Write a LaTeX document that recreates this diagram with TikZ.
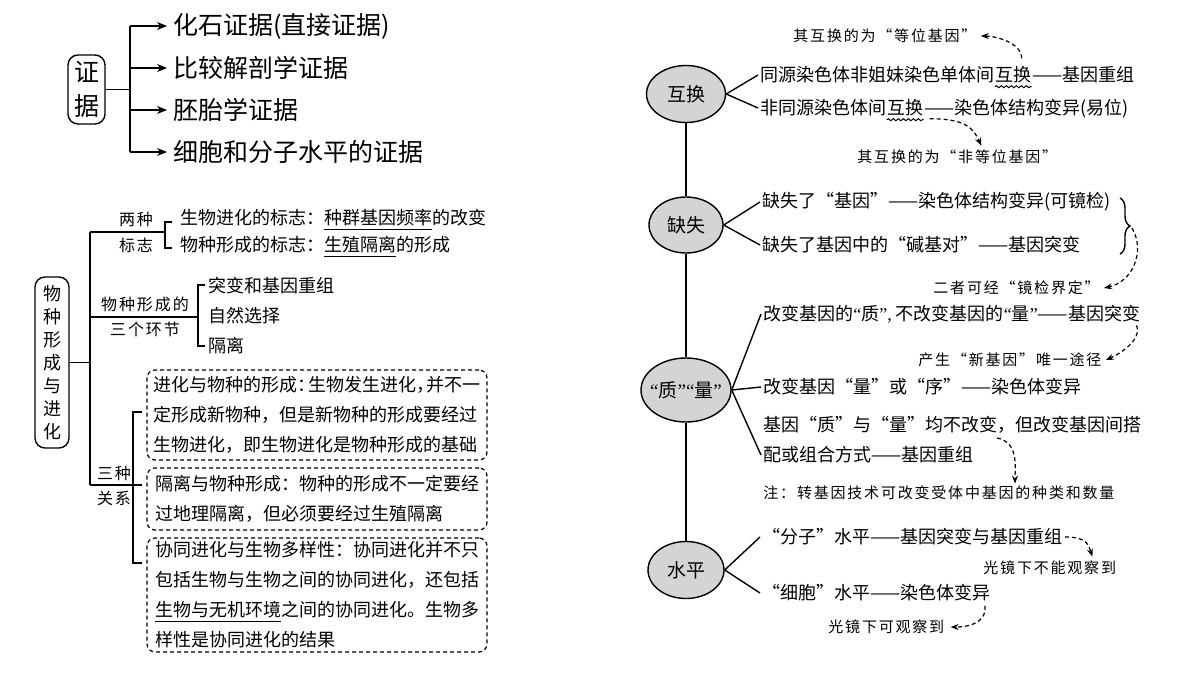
\documentclass[tikz,border=0pt]{standalone}
\usepackage{fontspec}
\setmainfont{Noto Sans CJK SC}
\newfontfamily\hand[LetterSpace=12]{Noto Sans CJK SC}
\newfontfamily\latq{Liberation Serif}
\usetikzlibrary{shapes.geometric,arrows.meta,decorations.pathreplacing,decorations.pathmorphing}
\newcommand\myq[1]{{\latq “}#1{\latq ”}}
\newcommand\ncolon{：\kern-0.4em}
\newcommand\ncomma{，\kern-0.45em}
\begin{document}
\begin{tikzpicture}[x=0.5pt,y=-0.5pt,
  txt/.style={anchor=west,inner sep=0pt,font=\fontsize{9}{11}\selectfont},
  bigt/.style={anchor=west,inner sep=0pt,font=\fontsize{12.5}{15}\selectfont},
  note/.style={anchor=west,inner sep=0pt,font=\hand\fontsize{7.5}{9}\selectfont},
  lbl/.style={inner sep=0pt,font=\hand\fontsize{8}{10}\selectfont},
  oval/.style={ellipse,draw,fill=black!17,line width=0.7pt,inner sep=0pt,font=\fontsize{9.5}{11}\selectfont},
  dbox/.style={draw,dash pattern=on 2pt off 1.5pt,rounded corners=4pt,line width=0.6pt,align=left,inner sep=0pt,font=\fontsize{9}{15}\selectfont},
  rbox/.style={draw,rounded corners=5pt,line width=0.7pt,inner sep=0pt,align=center},
  ln/.style={line width=0.7pt},
  arr/.style={line width=0.7pt,-{Stealth[length=5pt,width=4pt]}},
  darr/.style={line width=0.6pt,dash pattern=on 2pt off 1.5pt,-{Stealth[length=4pt,width=3pt]}},
  wavy/.style={decorate,decoration={snake,amplitude=0.5pt,segment length=2.5pt},line width=0.5pt}]
\useasboundingbox (0,0) rectangle (1200,675);
\fill[white] (0,0) rectangle (1200,675);

% ---------- top-left: 证据 ----------
\node[rbox,minimum width=18.5pt,minimum height=34.5pt,font=\fontsize{12.5}{17}\selectfont] (zj) at (86.5,89.5) {证\\据};
\coordinate (tm) at (130,89.5);
\coordinate (tk1) at (130,26);
\coordinate (tk2) at (130,68);
\coordinate (tk3) at (130,110);
\coordinate (tk4) at (130,152);
\node[bigt] (t1) at (173,26) {化石证据(直接证据)};
\node[bigt] (t2) at (173,68) {比较解剖学证据};
\node[bigt] (t3) at (173,110) {胚胎学证据};
\node[bigt] (t4) at (173,152) {细胞和分子水平的证据};
\draw[ln] (zj.east) -- (tm);
\draw[ln] (tk1) -- (tk4);
\draw[arr] (tk1) -- ([xshift=-3pt]t1.west);
\draw[arr] (tk2) -- ([xshift=-3pt]t2.west);
\draw[arr] (tk3) -- ([xshift=-3pt]t3.west);
\draw[arr] (tk4) -- ([xshift=-3pt]t4.west);

% ---------- lower-left: 物种形成与进化 ----------
\node[rbox,minimum width=17pt,minimum height=85.5pt,font=\fontsize{9}{11.5}\selectfont] (wz) at (52,362.5) {物\\种\\形\\成\\与\\进\\化};
\coordinate (Lm) at (90,362.5);
\coordinate (L1) at (90,232);
\coordinate (L2) at (90,317);
\coordinate (L3) at (90,485);
\draw[ln] (wz.east) -- (Lm);
\draw[ln] (L1) -- (L3);
% 两种标志
\draw[ln] (L1) -- (165,232);
\draw[ln] (172,222) -- (165,222) -- (165,248) -- (172,248);
\node[lbl] (lb1) at (136,219) {两种};
\node[lbl] (lb2) at (136,245) {标志};
\node[txt] (s1) at (180,220) {生物进化的标志：\underline{种群基因频率}的改变};
\node[txt] (s2) at (180,247) {物种形成的标志：\underline{生殖隔离}的形成};
% 三个环节
\draw[ln] (L2) -- (198,317);
\draw[ln] (205,285) -- (198,285) -- (198,346) -- (205,346);
\node[lbl] (lb3) at (145,304) {物种形成的};
\node[lbl] (lb4) at (145,329) {三个环节};
\node[txt] (h1) at (208,286) {突变和基因重组};
\node[txt] (h2) at (208,316) {自然选择};
\node[txt] (h3) at (208,346) {隔离};
% 三种关系
\draw[ln] (L3) -- (142,485);
\draw[ln] (142,412) -- (133,412) -- (133,563) -- (142,563);
\node[lbl] (lb5) at (114,473) {三种};
\node[lbl] (lb6) at (114,498) {关系};
\node[dbox,minimum width=170pt,minimum height=45pt] (b1) at (317,415)
  {进化与物种的形成\ncolon 生物发生进化\ncomma 并不一\\定形成新物种，但是新物种的形成要经过\\生物进化，即生物进化是物种形成的基础};
\node[dbox,minimum width=170pt,minimum height=31pt] (b2) at (317,499)
  {隔离与物种形成：物种的形成不一定要经\\过地理隔离，但必须要经过生殖隔离};
\node[dbox,minimum width=170pt,minimum height=57pt] (b3) at (317,595)
  {协同进化与生物多样性：协同进化并不只\\包括生物与生物之间的协同进化，还包括\\\underline{生物与无机环境}之间的协同进化。生物多\\样性是协同进化的结果};

% ---------- right side ----------
\node[oval,minimum width=39.5pt,minimum height=28.5pt] (e1) at (686,94) {互换};
\node[oval,minimum width=37pt,minimum height=28pt] (e2) at (686,225) {缺失};
\node[oval,minimum width=45pt,minimum height=32pt,inner xsep=-6pt] (e3) at (686,390) {\myq{质}\myq{量}};
\node[oval,minimum width=38pt,minimum height=28.5pt] (e4) at (686,570) {水平};
\draw[ln] (e1.south) -- (e2.north);
\draw[ln] (e2.south) -- (e3.north);
\draw[ln] (e3.south) -- (e4.north);

% 互换
\node[txt] (r1a) at (760,75) {同源染色体非姐妹染色单体间};
\node[txt,anchor=base west] (r1b) at (r1a.base east) {互换};
\node[txt,anchor=base west] (r1c) at (r1b.base east) {——基因重组};
\node[txt] (r2a) at (760,108) {非同源染色体间};
\node[txt,anchor=base west] (r2b) at (r2a.base east) {互换};
\node[txt,anchor=base west] (r2c) at (r2b.base east) {——染色体结构变异(易位)};
\draw[ln] (e1.east) -- ([xshift=-1pt]r1a.west);
\draw[ln] (e1.east) -- ([xshift=-1pt]r2a.west);
\draw[wavy] ([yshift=-1.5pt]r1b.south west) -- ([yshift=-1.5pt]r1b.south east);
\draw[wavy] ([yshift=-1.5pt]r2b.south west) -- ([yshift=-1.5pt]r2b.south east);
\node[note] (a1) at (793,36) {其互换的为“等位基因”};
\node[note] (a2) at (857,157) {其互换的为“非等位基因”};
\draw[darr] ([xshift=-5pt,yshift=4pt]r1b.north east) .. controls +(0,-16) and +(14,0) .. ([xshift=2pt]a1.east);
\draw[darr] ([xshift=3pt,yshift=-1pt]r2b.south east) .. controls +(35,0) and +(-8,-18) .. ([xshift=12pt,yshift=2pt]a2.north);

% 缺失
\node[txt] (r3) at (762,202) {缺失了“基因”——染色体结构变异(可镜检)};
\node[txt] (r4) at (762,245) {缺失了基因中的“碱基对”——基因突变};
\draw[ln] (e2.east) -- ([xshift=-1pt]r3.west);
\draw[ln] (e2.east) -- ([xshift=-1pt]r4.west);
\draw[ln,decorate,decoration={brace,amplitude=5pt}] (1120,198) -- (1120,254);
\coordinate (bt) at (1132,228);
\node[note] (a3) at (933,288) {二者可经“镜检界定”};
\draw[darr] (bt) .. controls (1146,252) and (1132,282) .. ([xshift=2pt]a3.east);

% 质量
\node[txt] (r5) at (763,314) {改变基因的\myq{质}{\latq ,} 不改变基因的\myq{量}——基因突变};
\node[txt] (r6) at (763,387) {改变基因“量”或“序”——染色体变异};
\node[txt] (r7) at (763,425) {基因“质”与“量”均不改变，但改变基因间搭};
\node[txt] (r8) at (763,455) {配或组合方式——基因重组};
\draw[ln] (e3.east) -- ([xshift=-1pt]r5.west);
\draw[ln] (e3.east) -- ([xshift=-1pt]r6.west);
\draw[ln] (e3.east) -- ([xshift=-1pt]r8.west);
\node[note] (a4) at (918,360) {产生“新基因”唯一途径};
\draw[darr] ([xshift=-2pt,yshift=-1pt]r5.south east) .. controls +(6,14) and +(14,-6) .. ([xshift=2pt]a4.east);
\coordinate (c7) at ([xshift=117pt,yshift=-2pt]r7.south west);
\node[note] (a5) at (763,493) {注：转基因技术可改变受体中基因的种类和数量};
\draw[darr] (c7) .. controls +(22,4) and +(0,-16) .. ([xshift=126pt,yshift=1pt]a5.north west);

% 水平
\node[txt] (r9) at (762,537) {“分子”水平——基因突变与基因重组};
\node[txt] (r10) at (762,593) {“细胞”水平——染色体变异};
\draw[ln] (e4.east) -- ([xshift=-1pt]r9.west);
\draw[ln] (e4.east) -- ([xshift=-1pt]r10.west);
\node[note] (a6) at (983,568) {光镜下不能观察到};
\node[note] (a7) at (828,627) {光镜下可观察到};
\draw[darr] ([xshift=1pt]r9.east) .. controls +(22,0) and +(-4,-12) .. ([xshift=-12pt,yshift=2pt]a6.north east);
\draw[darr] ([xshift=-3pt,yshift=-2pt]r10.south east) .. controls +(2,20) and +(12,0) .. ([xshift=3pt]a7.east);
\end{tikzpicture}
\end{document}
